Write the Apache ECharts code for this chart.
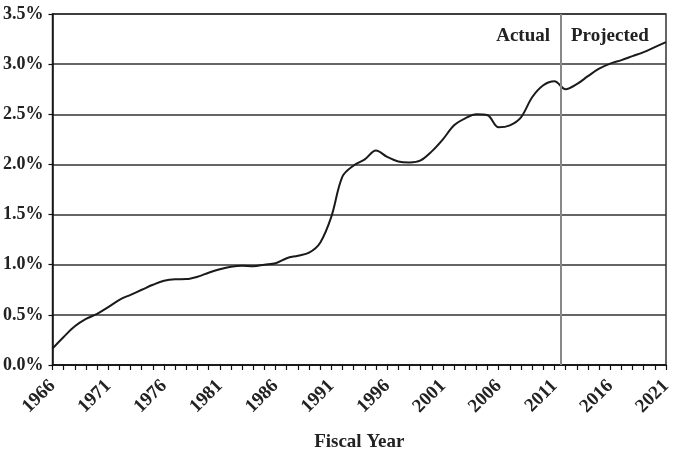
<!DOCTYPE html>
<html>
<head>
<meta charset="utf-8">
<script src="https://cdn.jsdelivr.net/npm/echarts@6/dist/echarts.min.js"></script>
<style>html,body{margin:0;padding:0;background:#fff}#c{width:678px;height:457px}</style>
</head>
<body>
<div id="c"></div>
<script>
const years = [1966,1967,1968,1969,1970,1971,1972,1973,1974,1975,1976,1977,1978,1979,1980,
  1981,1982,1983,1984,1985,1986,1987,1988,1989,1990,1991,1992,1993,1994,1995,1996,1997,1998,1999,2000,
  2001,2002,2003,2004,2005,2006,2007,2008,2009,2010,2011,2012,2013,2014,2015,2016,2017,2018,2019,2020,2021];
const values = [0.165,0.28,0.386,0.46,0.51,0.577,0.65,0.70,0.75,0.80,0.84,0.855,0.857,0.88,0.92,
  0.955,0.98,0.99,0.985,1.0,1.015,1.065,1.09,1.12,1.22,1.48,1.88,1.99,2.05,2.14,2.075,2.03,2.02,2.04,2.13,
  2.25,2.39,2.46,2.50,2.49,2.37,2.39,2.47,2.67,2.79,2.83,2.75,2.80,2.88,2.955,3.005,3.04,3.08,3.12,3.17,3.22];
const yTicks = ['0.0%','0.5%','1.0%','1.5%','2.0%','2.5%','3.0%','3.5%'];
const splitYear = 2011.55;
const labelLeft = 'Actual';
const labelRight = 'Projected';
const xTitle = 'Fiscal Year';

const baseYear = years[0];
const data = years.map((y, i) => [y - baseYear, values[i]]);
const font = '"Liberation Serif", "Times New Roman", serif';

const chart = echarts.init(document.getElementById('c'));
chart.setOption({
  animation: false,
  grid: {left: 52, right: 12, top: 14, bottom: 89, show: true, borderColor: '#333', borderWidth: 1.5},
  xAxis: {
    type: 'value', min: 0, max: years[years.length - 1] - baseYear, interval: 5,
    axisLine: {show: true, lineStyle: {color: '#111', width: 1.5}},
    axisTick: {show: true, length: 5, lineStyle: {color: '#111', width: 1.2}},
    minorTick: {show: true, splitNumber: 5, length: 5, lineStyle: {color: '#111', width: 1.2}},
    splitLine: {show: false},
    axisLabel: {
      formatter: v => String(v + baseYear), rotate: 45, margin: 18,
      fontFamily: font, fontWeight: 'bold', fontSize: 19, color: '#222'
    },
    name: xTitle, nameLocation: 'middle', nameGap: 68,
    nameTextStyle: {fontFamily: font, fontWeight: 'bold', fontSize: 19, color: '#222'}
  },
  yAxis: {
    type: 'value', min: 0, max: 3.5, interval: 0.5,
    axisLine: {show: true, lineStyle: {color: '#111', width: 1.5}},
    axisTick: {show: true, length: 4, lineStyle: {color: '#111', width: 1.2}},
    splitLine: {show: true, lineStyle: {color: '#333', width: 1.5}},
    axisLabel: {
      formatter: v => yTicks[Math.round(v / 0.5)] || '', margin: 9,
      fontFamily: font, fontWeight: 'bold', fontSize: 18, color: '#222'
    }
  },
  series: [{
    type: 'line', data: data, smooth: 0.35, symbol: 'none',
    lineStyle: {color: '#1a1a1a', width: 2},
    markLine: {
      silent: true, symbol: ['none', 'none'],
      lineStyle: {color: '#888', width: 2, type: 'solid'},
      label: {show: false},
      data: [{xAxis: splitYear - baseYear}]
    }
  }],
  graphic: [
    {type: 'text', right: 678 - 550, top: 27, style: {text: labelLeft, font: 'bold 19px ' + font, fill: '#222'}},
    {type: 'text', left: 571, top: 27, style: {text: labelRight, font: 'bold 19px ' + font, fill: '#222'}}
  ]
});
</script>
</body>
</html>
